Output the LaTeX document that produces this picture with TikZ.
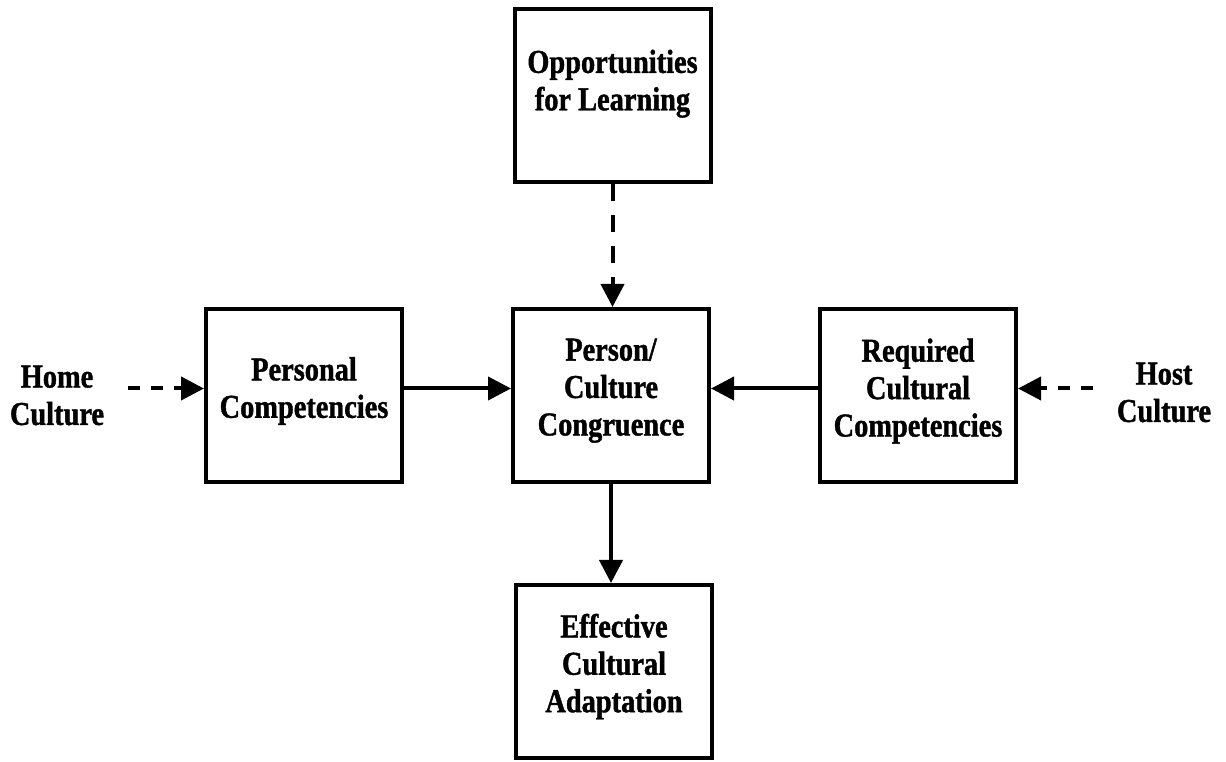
\documentclass[tikz,border=0pt]{standalone}
\usepackage{fontspec}
\setmainfont{Liberation Serif}[FakeStretch=0.85,FakeBold=1.2]
\usetikzlibrary{arrows.meta}

\begin{document}
\begin{tikzpicture}[
	line width=0.08cm,
	font=\fontsize{19pt}{21.3pt}\selectfont\bfseries,
	box/.style={draw, minimum width=3.92cm, minimum height=3.46cm, align=center, inner sep=0pt, text depth=0.34cm},
	pfeil/.style={-{Triangle[length=0.46cm,width=0.46cm]}},
	gestrichelt/.style={pfeil, dash pattern=on 0.24cm off 0.22cm}
]
\useasboundingbox (0,0) rectangle (24.52,15.22);

%Kaesten
\node[box, text depth=0.62cm] (opp) at (12.25,13.31) {Opportunities\\for Learning};
\node[box] (pc) at (6.08,7.30) {Personal\\Competencies};
\node[box] (cong) at (12.22,7.31) {Person/\\Culture\\Congruence};
\node[box] (req) at (18.36,7.30) {Required\\Cultural\\Competencies};
\node[box] (eff) at (12.28,1.79) {Effective\\Cultural\\Adaptation};

%Kulturen
\node[align=center] (home) at (1.14,7.31) {Home\\Culture};
\node[align=center] (host) at (23.28,7.37) {Host\\Culture};
\coordinate (homeout) at (2.56,7.45);
\coordinate (hostout) at (21.86,7.45);

%Pfeile
\draw[gestrichelt] (homeout) -- (homeout -| pc.west);
\draw[gestrichelt] (hostout) -- (hostout -| req.east);
\draw[pfeil] (pc.east |- homeout) -- (cong.west |- homeout);
\draw[pfeil] (req.west |- homeout) -- (cong.east |- homeout);
\draw[gestrichelt, dash pattern=on 0.34cm off 0.28cm] (opp.south) -- (opp.south |- cong.north);
\draw[pfeil] (cong.south) -- (cong.south |- eff.north);

\end{tikzpicture}
\end{document}
